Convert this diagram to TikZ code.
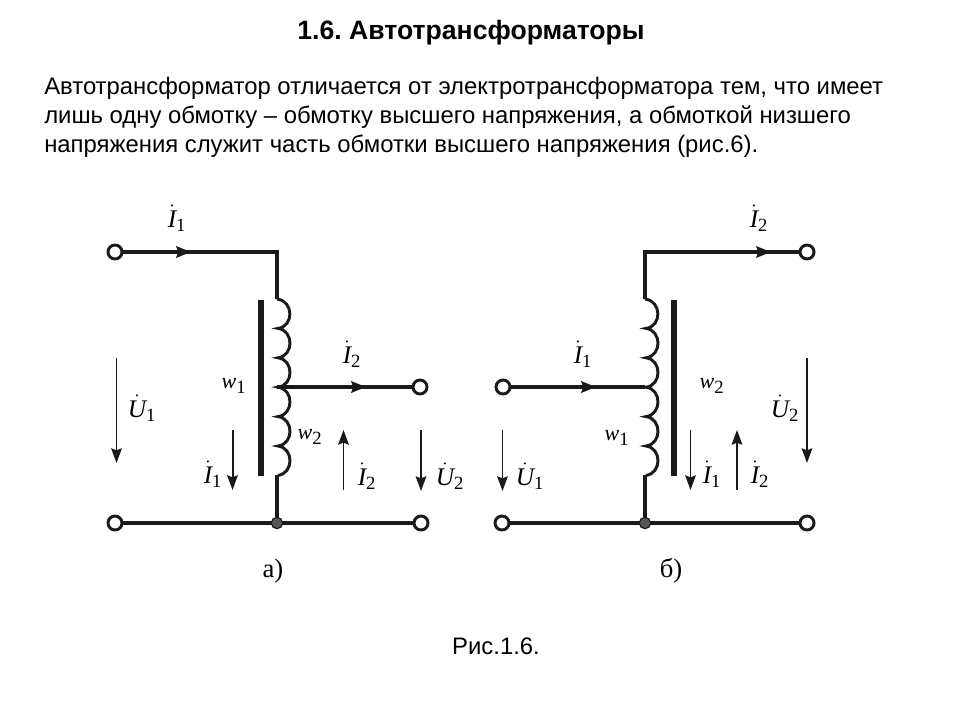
\documentclass[tikz,border=0pt]{standalone}
\usepackage{fix-cm}
\usepackage{fontspec}
\setmainfont{Liberation Sans}
\newfontfamily\serifcap{Liberation Serif}
\usetikzlibrary{arrows.meta}
\definecolor{ink}{HTML}{1A1A1A}
\definecolor{junction}{HTML}{555555}
\frenchspacing
\tikzset{
  x=0.75pt,y=-0.75pt,
  wire/.style={draw=ink,line width=2.3pt},
  thinwire/.style={draw=ink,line width=1.2pt},
  terminal/.style={circle,draw=ink,line width=2.2pt,fill=white,minimum size=10.5pt,inner sep=0pt},
  joint/.style={circle,draw=ink,line width=.7pt,fill=junction,minimum size=8.5pt,inner sep=0pt},
  flow/.style={thinwire,-{Stealth[length=11pt,width=8pt,inset=1.5pt]}},
  wireflow/.style={draw=ink,line width=2.3pt,-{Stealth[length=11pt,width=8.5pt,inset=1.5pt]}},
  core/.style={fill=ink,draw=none},
  sym/.style={inner sep=0pt,font=\serifcap\fontsize{19}{22}\selectfont},
  smallsym/.style={inner sep=0pt,font=\serifcap\fontsize{16.5}{20}\selectfont},
  bodytext/.style={anchor=west,inner sep=0pt,font=\fontsize{17.9}{22}\selectfont},
  figcap/.style={inner sep=0pt,font=\serifcap\fontsize{20}{23}\selectfont},
}
\newcommand{\subnum}[1]{\hbox{\serifcap\fontsize{14}{14}\selectfont #1}}
\newcommand{\Idot}[1]{$\dot{\hbox{\itshape I}}_{\subnum{#1}}$}
\newcommand{\Udot}[1]{$\dot{\hbox{\itshape U}}_{\subnum{#1}}$}
\newcommand{\wind}[1]{$\hbox{\itshape w}_{\subnum{#1}}$}
\newcommand{\coil}[1]{%
  \draw[draw=ink,line width=2.2pt] (#1,299)
  \foreach \k in {0,...,5}{
    .. controls ({#1+17},{299+\k*29.4+2}) and ({#1+17},{299+\k*29.4+27.4}) .. ({#1+1},{299+(\k+1)*29.4})
  };}
\begin{document}
\begin{tikzpicture}
\useasboundingbox (0,0) rectangle (960,720);
\fill[white] (0,0) rectangle (960,720);

\node[inner sep=0pt,font=\bfseries\fontsize{19.95}{24}\selectfont] (title) at (471,33) {1.6. Автотрансформаторы};
\node[bodytext] (l1) at (44,88) {Автотрансформатор отличается от электротрансформатора тем, что имеет};
\node[bodytext] (l2) at (44,117) {лишь одну обмотку – обмотку высшего напряжения, а обмоткой низшего};
\node[bodytext] (l3) at (44,146) {напряжения служит часть обмотки высшего напряжения (рис.6).};
\node[inner sep=0pt,font=\fontsize{17.9}{22}\selectfont] (cap) at (496,646) {Рис.1.6.};

% --- a)
\coordinate (aTurn) at (277,252);
\coordinate (aCoilTop) at (277,299);
\coordinate (aTap) at (277,387);
\coordinate (aCoilBot) at (277,475);
\node[joint] (aJ) at (277,523) {};
\node[terminal] (aT1) at (115,252) {};
\node[terminal] (aT2) at (420,387) {};
\node[terminal] (aT3) at (115,523) {};
\node[terminal] (aT4) at (421,523) {};
\draw[wire] (aT1) -- (aTurn) -- (aCoilTop);
\draw[wire] (aTap) -- (aT2);
\draw[wire] (aT3) -- (aT4);
\draw[wire] (aCoilBot) -- (aJ.center);
\node[joint] at (aJ) {};
\coil{277}
\fill[core] (258,300) rectangle (264,476);
\coordinate (aA1s) at (170,252); \coordinate (aA1e) at (191,252);
\draw[wireflow] (aA1s) -- (aA1e);
\coordinate (aA2s) at (345,387); \coordinate (aA2e) at (366,387);
\draw[wireflow] (aA2s) -- (aA2e);
\coordinate (aU1s) at (116.5,358); \coordinate (aU1e) at (116.5,463);
\draw[flow] (aU1s) -- (aU1e);
\coordinate (aI1s) at (232.5,430); \coordinate (aI1e) at (232.5,490);
\draw[flow,line width=1.5pt] (aI1s) -- (aI1e);
\coordinate (aI2s) at (343.5,490); \coordinate (aI2e) at (343.5,430);
\draw[flow] (aI2s) -- (aI2e);
\coordinate (aU2s) at (421,430); \coordinate (aU2e) at (421,491);
\draw[flow] (aU2s) -- (aU2e);
\node[sym] (aLI1) at (177,218) {\Idot{1}};
\node[sym] (aLI2) at (352,354) {\Idot{2}};
\node[sym] (aLU1) at (142,408) {\Udot{1}};
\node[sym] (aLi1) at (213,474) {\Idot{1}};
\node[sym] (aLi2) at (367,476) {\Idot{2}};
\node[sym] (aLU2) at (450,476) {\Udot{2}};
\node[smallsym] (aw1) at (234,386) {\wind{1}};
\node[smallsym] (aw2) at (310,437) {\wind{2}};
\node[figcap] (aCap) at (273,571) {а)};

% --- b)
\coordinate (bTurn) at (645,252);
\coordinate (bCoilTop) at (645,299);
\coordinate (bTap) at (645,387);
\coordinate (bCoilBot) at (645,475);
\node[joint] (bJ) at (645,523) {};
\node[terminal] (bT1) at (807,252) {};
\node[terminal] (bT2) at (503,387) {};
\node[terminal] (bT3) at (502,523) {};
\node[terminal] (bT4) at (807,523) {};
\draw[wire] (bCoilTop) -- (bTurn) -- (bT1);
\draw[wire] (bT2) -- (bTap);
\draw[wire] (bT3) -- (bT4);
\draw[wire] (bCoilBot) -- (bJ.center);
\node[joint] at (bJ) {};
\coil{645}
\fill[core] (671,300) rectangle (677,476);
\coordinate (bA1s) at (750,252); \coordinate (bA1e) at (771,252);
\draw[wireflow] (bA1s) -- (bA1e);
\coordinate (bA2s) at (575,387); \coordinate (bA2e) at (596,387);
\draw[wireflow] (bA2s) -- (bA2e);
\coordinate (bU1s) at (502.5,430); \coordinate (bU1e) at (502.5,491);
\draw[flow] (bU1s) -- (bU1e);
\coordinate (bI1s) at (690.5,430); \coordinate (bI1e) at (690.5,490);
\draw[flow] (bI1s) -- (bI1e);
\coordinate (bI2s) at (737,490); \coordinate (bI2e) at (737,430);
\draw[flow] (bI2s) -- (bI2e);
\coordinate (bU2s) at (807,358); \coordinate (bU2e) at (807,463);
\draw[flow] (bU2s) -- (bU2e);
\node[sym] (bLI2) at (759,218) {\Idot{2}};
\node[sym] (bLI1) at (583,354) {\Idot{1}};
\node[sym] (bLU2) at (785,408) {\Udot{2}};
\node[sym] (bLU1) at (530,476) {\Udot{1}};
\node[sym] (bLi1) at (712,474) {\Idot{1}};
\node[sym] (bLi2) at (760,474) {\Idot{2}};
\node[smallsym] (bw2) at (712,386) {\wind{2}};
\node[smallsym] (bw1) at (617,438) {\wind{1}};
\node[figcap] (bCap) at (671,571) {б)};
\end{tikzpicture}
\end{document}
